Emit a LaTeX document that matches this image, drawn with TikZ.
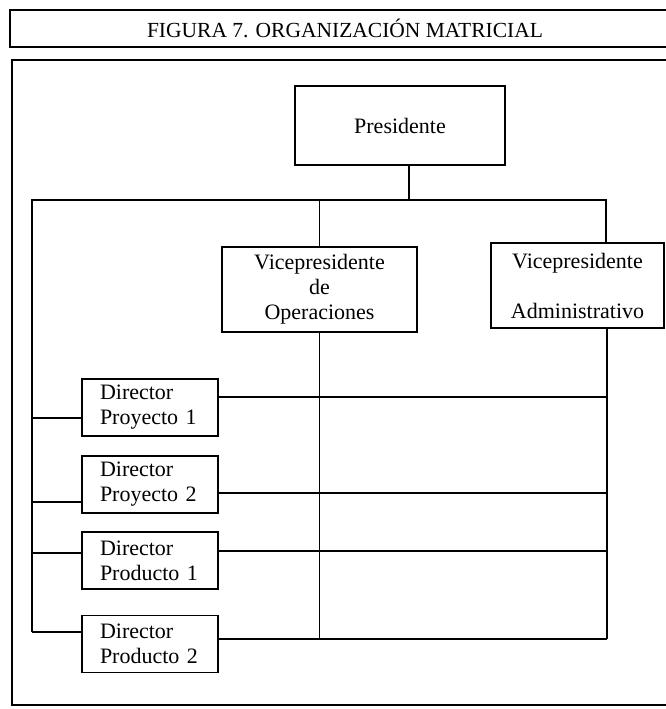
\documentclass[tikz,border=0pt]{standalone}
\usepackage{fontspec}
\setmainfont{Liberation Serif}
\usetikzlibrary{positioning}

\begin{document}
\begin{tikzpicture}[x=1pt,y=-1pt,line width=1.3pt,
                    frame/.style={line width=1.8pt},
                    box node/.style={draw,rectangle,align=center,inner sep=0pt,font=\fontsize{22}{25}\selectfont},
                    dir node/.style={draw,rectangle,align=left,text width=100pt,inner xsep=18pt,inner ysep=0pt,
                                     minimum height=57pt,font=\fontsize{22}{25}\selectfont}]

  \useasboundingbox (0,0) rectangle (666,709);
  \fill[white] (0,0) rectangle (666,709);

  \draw[frame] (10,10) rectangle (700,47);
  \draw[frame] (12,60) rectangle (700,705);
  \node[font=\fontsize{21.5}{24}\selectfont] (title) at (345,28) {FIGURA 7. ORGANIZACIÓN MATRICIAL};

  \node[box node, minimum width=210pt, minimum height=79pt] (pres) at (400,125.5) {Presidente};
  \node[box node, minimum width=195pt, minimum height=85pt] (vpo) at (319.5,289.5) {Vicepresidente\\de\\Operaciones};
  \node[box node, minimum width=173pt, minimum height=85pt] (vpa) at (577.5,285.5) {Vicepresidente\\~\\Administrativo};

  \node[dir node] (d1) at (150,407.5) {Director\\Proyecto 1};
  \node[dir node] (d2) at (150,484.5) {Director\\Proyecto 2};
  \node[dir node] (d3) at (150,560.5) {Director\\Producto 1};
  \node[dir node] (d4) at (150,644) {Director\\Producto 2};

  \coordinate (busL) at (32,200);
  \coordinate (busR) at (606,200);
  \coordinate (l1) at (32,418);
  \coordinate (l2) at (32,502);
  \coordinate (l3) at (32,553);
  \coordinate (l4) at (32,632);
  \coordinate (r1) at (607,397);
  \coordinate (r2) at (607,493);
  \coordinate (r3) at (607,551);
  \coordinate (r4) at (607,639);

  \draw ([xshift=9pt]pres.south) -- ([xshift=9pt]pres.south |- busL);
  \draw (l4) -- (busL) -- (busR) -- (vpa.north -| busR);
  \draw (vpo.north |- busL) -- (vpo.north);
  \draw (vpo.south) -- (vpo.south |- r4);
  \draw (vpa.south -| r1) -- (r4);

  \draw (l1) -- (d1.west |- l1);
  \draw (l2) -- (d2.west |- l2);
  \draw (l3) -- (d3.west |- l3);
  \draw (l4) -- (d4.west |- l4);
  \draw (d1.east |- r1) -- (r1);
  \draw (d2.east |- r2) -- (r2);
  \draw (d3.east |- r3) -- (r3);
  \draw (d4.east |- r4) -- (r4);
\end{tikzpicture}
\end{document}
